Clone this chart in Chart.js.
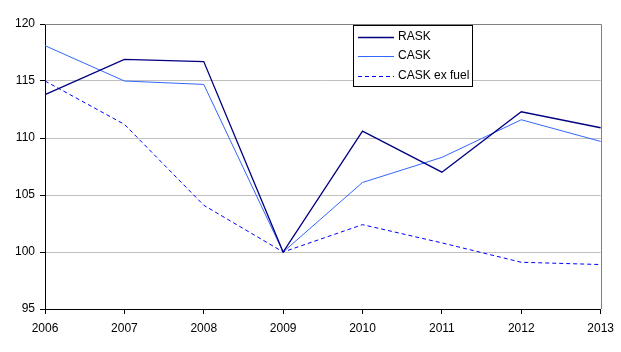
<!DOCTYPE html>
<html>
<head>
<meta charset="utf-8">
<script src="https://cdn.jsdelivr.net/npm/chart.js@4"></script>
<style>
  html, body { margin: 0; padding: 0; background: #fff; }
  #wrap { width: 621px; height: 352px; }
</style>
</head>
<body>
<div id="wrap"><canvas id="chart" width="621" height="352"></canvas></div>
<script>
// ===== DATA =====
const years = ["2006", "2007", "2008", "2009", "2010", "2011", "2012", "2013"];
const rask = [113.8, 116.9, 116.7, 100.0, 110.6, 107.0, 112.3, 110.9];
const cask = [118.1, 115.0, 114.7, 100.0, 106.1, 108.3, 111.6, 109.7];
const caskExFuel = [115.0, 111.2, 104.1, 100.0, 102.4, 100.8, 99.1, 98.9];
const yTicks = [95, 100, 105, 110, 115, 120];

const FONT = { family: "'Liberation Sans', Arial, sans-serif", size: 12 };

// ===== PLOT FRAME (top + right in gray) =====
const framePlugin = {
  id: "frame",
  afterDraw(chart) {
    const { ctx, chartArea: a } = chart;
    ctx.save();
    ctx.strokeStyle = "#808080";
    ctx.lineWidth = 1;
    ctx.beginPath();
    ctx.moveTo(a.left, a.top + 0.5);
    ctx.lineTo(Math.round(a.right) + 0.5, a.top + 0.5);
    ctx.lineTo(Math.round(a.right) + 0.5, a.bottom);
    ctx.stroke();
    ctx.restore();
  }
};

// ===== LEGEND BOX =====
const legendPlugin = {
  id: "boxLegend",
  afterDraw(chart) {
    const ctx = chart.ctx;
    const x = 353, y = 25, w = 119, h = 61;
    ctx.save();
    ctx.fillStyle = "#fff";
    ctx.fillRect(x, y, w, h);
    ctx.strokeStyle = "#000";
    ctx.lineWidth = 1;
    ctx.strokeRect(x + 0.5, y + 0.5, w, h);
    ctx.font = FONT.size + "px " + FONT.family;
    ctx.textBaseline = "middle";
    ctx.fillStyle = "#000";
    chart.data.datasets.forEach((ds, i) => {
      const ly = y + 11.5 + i * 19.5;
      ctx.strokeStyle = ds.borderColor;
      ctx.lineWidth = ds.borderWidth;
      ctx.setLineDash(ds.borderDash || []);
      ctx.beginPath();
      ctx.moveTo(x + 5, Math.round(ly) + 0.5);
      ctx.lineTo(x + 41, Math.round(ly) + 0.5);
      ctx.stroke();
      ctx.setLineDash([]);
      ctx.fillText(ds.label, x + 45, ly);
    });
    ctx.restore();
  }
};

new Chart(document.getElementById("chart"), {
  type: "line",
  data: {
    labels: years,
    datasets: [
      { label: "RASK", data: rask, borderColor: "#000080", borderWidth: 1.3 },
      { label: "CASK", data: cask, borderColor: "#3366ff", borderWidth: 1 },
      { label: "CASK ex fuel", data: caskExFuel, borderColor: "#0000ff", borderWidth: 1, borderDash: [4, 3] }
    ]
  },
  options: {
    responsive: false,
    animation: false,
    devicePixelRatio: 1,
    layout: { padding: { left: 0, right: 18, top: 24, bottom: 0 } },
    elements: {
      line: { tension: 0, fill: false },
      point: { radius: 0, hoverRadius: 0 }
    },
    plugins: {
      legend: { display: false },
      tooltip: { enabled: false }
    },
    scales: {
      x: {
        type: "category",
        offset: false,
        afterFit: s => { s.height = 43; },
        grid: { drawOnChartArea: false, drawTicks: true, tickLength: 5, tickColor: "#000" },
        border: { display: true, color: "#000", width: 1 },
        ticks: { color: "#000", font: FONT, padding: 7, maxRotation: 0, autoSkip: false }
      },
      y: {
        min: 95,
        max: 120,
        afterFit: s => { s.width = 45; },
        afterBuildTicks: s => { s.ticks = yTicks.map(v => ({ value: v })); },
        grid: {
          color: c => (c.tick && c.tick.value === 120 ? "#808080" : c.tick && c.tick.value === 95 ? "rgba(0,0,0,0)" : "#c0c0c0"),
          tickColor: "#000",
          tickLength: 5,
          lineWidth: 1
        },
        border: { display: true, color: "#000", width: 1 },
        ticks: { color: "#000", font: FONT, padding: 5 }
      }
    }
  },
  plugins: [framePlugin, legendPlugin]
});
</script>
</body>
</html>
